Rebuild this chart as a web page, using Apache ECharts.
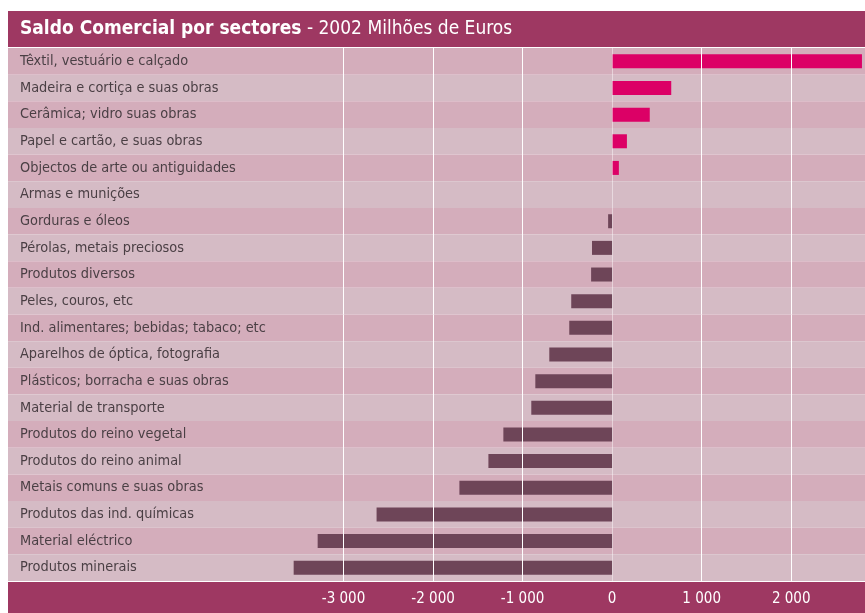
<!DOCTYPE html>
<html>
<head>
<meta charset="utf-8">
<script src="https://cdn.jsdelivr.net/npm/echarts@6/dist/echarts.min.js"></script>
<style>
  html, body { margin: 0; padding: 0; background: #fff; }
  #main { width: 865px; height: 613px; }
</style>
</head>
<body>
<div id="main"></div>
<script>
// sectores, de cima para baixo
var sectores = [
  'Têxtil, vestuário e calçado',
  'Madeira e cortiça e suas obras',
  'Cerâmica; vidro suas obras',
  'Papel e cartão, e suas obras',
  'Objectos de arte ou antiguidades',
  'Armas e munições',
  'Gorduras e óleos',
  'Pérolas, metais preciosos',
  'Produtos diversos',
  'Peles, couros, etc',
  'Ind. alimentares; bebidas; tabaco; etc',
  'Aparelhos de óptica, fotografia',
  'Plásticos; borracha e suas obras',
  'Material de transporte',
  'Produtos do reino vegetal',
  'Produtos do reino animal',
  'Metais comuns e suas obras',
  'Produtos das ind. químicas',
  'Material eléctrico',
  'Produtos minerais'
];
// saldo em milhões de euros
var saldo = [2790, 660, 420, 165, 75, 0, -45, -225, -235, -457, -479, -702, -858, -903, -1215, -1382, -1706, -2631, -3289, -3557];

var corTitulo = '#9e3862';
var fonte = "'Liberation Sans Narrow', 'DejaVu Sans Condensed', 'Roboto Condensed', 'Liberation Sans', sans-serif";

var chart = echarts.init(document.getElementById('main'));

function fmt(v) {
  if (v < -3000 || v > 2000 || v % 1000 !== 0) return '';
  var s = String(Math.abs(v));
  if (s.length > 3) s = s.slice(0, s.length - 3) + ' ' + s.slice(-3);
  return (v < 0 ? '-' : '') + s;
}

var option = {
  animation: false,
  backgroundColor: '#fff',
  textStyle: { fontFamily: fonte },
  title: {
    left: 20,
    top: 20,
    padding: 0,
    text: '{b|Saldo Comercial por sectores} - 2002 Milhões de Euros',
    textStyle: {
      color: '#fff',
      fontFamily: fonte,
      fontSize: 19,
      fontWeight: 'normal',
      rich: {
        b: { color: '#fff', fontFamily: fonte, fontSize: 19, fontWeight: 'bold' }
      }
    }
  },
  graphic: [
    { type: 'rect', z: 1, shape: { x: 8, y: 11, width: 857, height: 36 }, style: { fill: corTitulo } },
    { type: 'rect', z: 1, shape: { x: 8, y: 582, width: 857, height: 31 }, style: { fill: corTitulo } }
  ],
  grid: [
    { left: 8, right: 0, top: 48, bottom: 32, outerBoundsMode: 'none' },
    { left: 254, right: 0, top: 48, bottom: 32, outerBoundsMode: 'none' }
  ],
  xAxis: [
    { gridIndex: 0, type: 'value', min: 0, max: 1, show: false },
    {
      gridIndex: 1,
      type: 'value',
      min: -4000,
      max: 2824,
      interval: 1000,
      z: 5,
      axisLine: { show: false },
      axisTick: { show: false },
      axisLabel: {
        color: '#fff',
        fontSize: 15,
        fontFamily: fonte,
        margin: 11,
        formatter: fmt
      },
      splitLine: {
        show: true,
        showMinLine: false,
        showMaxLine: false,
        lineStyle: {
          color: ['#fff', '#fff', '#fff', 'rgba(255,255,255,0.45)', '#fff', '#fff'],
          width: 1
        }
      }
    }
  ],
  yAxis: [
    {
      gridIndex: 0,
      type: 'category',
      inverse: true,
      data: sectores,
      axisLine: { show: false },
      axisTick: { show: false },
      axisLabel: {
        inside: true,
        margin: 12,
        color: '#4a3f44',
        fontSize: 14.4,
        fontFamily: fonte
      },
      splitArea: {
        show: true,
        areaStyle: { color: ['#d4adbb', '#d5bbc5'] }
      }
    },
    {
      gridIndex: 1,
      type: 'category',
      inverse: true,
      data: sectores,
      show: false
    }
  ],
  series: [{
    type: 'bar',
    xAxisIndex: 1,
    yAxisIndex: 1,
    barWidth: 14,
    data: saldo,
    itemStyle: {
      color: function (p) { return p.value >= 0 ? '#dc0066' : '#6e4558'; }
    }
  }]
};

chart.setOption(option);
</script>
</body>
</html>
